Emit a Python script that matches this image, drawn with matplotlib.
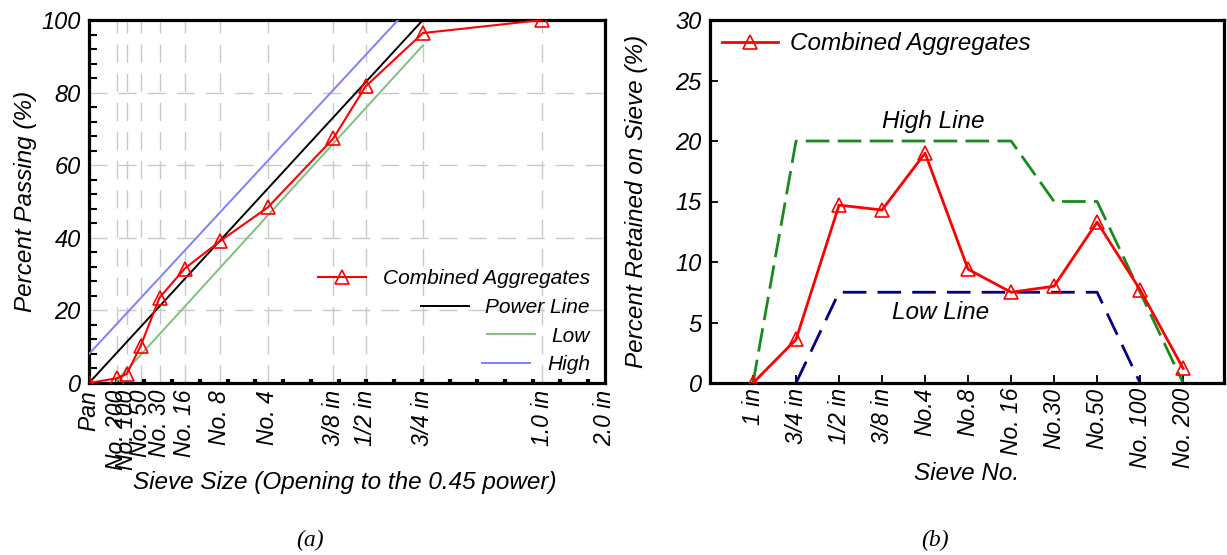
import numpy as np
import matplotlib
matplotlib.use('Agg')
import matplotlib.pyplot as plt
from matplotlib.ticker import FixedLocator, MultipleLocator

plt.rcParams['font.family'] = ['Liberation Sans', 'DejaVu Sans']
plt.rcParams['font.style'] = 'italic'

# ---------------- (a) gradation chart data ----------------
sieve_mm = [0, 0.075, 0.15, 0.3, 0.6, 1.18, 2.36, 4.75, 9.5, 12.5, 19.0, 37.5, 50.0]
sieve_labels_a = ['Pan', 'No. 200', 'No. 100', 'No. 50', 'No. 30', 'No. 16', 'No. 8',
                  'No. 4', '3/8 in', '1/2 in', '3/4 in', '1.0 in', '2.0 in']
combined_mm = [0, 0.075, 0.15, 0.3, 0.6, 1.18, 2.36, 4.75, 9.5, 12.5, 19.0, 37.5]
combined_passing = [0, 1.3, 2.5, 10.2, 23.5, 31.5, 39.0, 48.4, 67.4, 81.7, 96.4, 100]
power_mm = [0, 19.0]
power_pct = [0, 100]
low_mm = [0.075, 19.0]
low_pct = [0.5, 93]
high_mm = [0, 16.0]
high_pct = [8, 100]

# ---------------- (b) retained chart data ----------------
sieve_labels_b = ['1 in', '3/4 in', '1/2 in', '3/8 in', 'No.4', 'No.8', 'No. 16',
                  'No.30', 'No.50', 'No. 100', 'No. 200']
retained = [0, 3.6, 14.7, 14.3, 19.0, 9.4, 7.5, 8.0, 13.3, 7.7, 1.2]
high_line = [0, 20, 20, 20, 20, 20, 20, 15, 15, 7.5, 0]
low_line_sieves = ['3/4 in', '1/2 in', '3/8 in', 'No.4', 'No.8', 'No. 16', 'No.30', 'No.50', 'No. 100']
low_line = [0, 7.5, 7.5, 7.5, 7.5, 7.5, 7.5, 7.5, 0]

FS_TICK = 17
FS_XT = 16.5
FS_LAB = 17.5
FS_LEGA = 15
FS_B = 17.5
POW = 0.45

fig = plt.figure(figsize=(12.27, 5.55), dpi=100)

# ======================= (a) =======================
ax1 = fig.add_axes([89/1227, 1-383/555, (605-89)/1227, (383-20)/555])
fwd = lambda x: np.power(np.maximum(x, 0), POW)
inv = lambda x: np.power(np.maximum(x, 0), 1/POW)
ax1.set_xscale('function', functions=(fwd, inv))

ax1.plot(combined_mm, combined_passing, color='red', lw=1.5, marker='^', ms=10,
         mfc='none', mec='red', mew=1.2, label='Combined Aggregates', zorder=5)
ax1.plot(power_mm, power_pct, color='black', lw=1.4, label='Power Line', zorder=4)
ax1.plot(low_mm, low_pct, color='#7fc07f', lw=1.4, label='Low', zorder=4)
ax1.plot(high_mm, high_pct, color='#8080ff', lw=1.4, label='High', zorder=4)

ax1.set_xlim(0, 50)
ax1.set_ylim(0, 100)
ax1.xaxis.set_major_locator(FixedLocator(sieve_mm))
ax1.set_xticklabels(sieve_labels_a, rotation=90, fontsize=FS_XT)
minor_pos = [(k*0.3125)**(1/POW) for k in range(1, 19)]
ax1.xaxis.set_minor_locator(FixedLocator(minor_pos))
ax1.yaxis.set_major_locator(MultipleLocator(20))
ax1.yaxis.set_minor_locator(MultipleLocator(4))
ax1.tick_params(axis='x', which='major', length=0, pad=5)
ax1.tick_params(axis='x', which='minor', direction='in', length=3, width=3, color='black')
ax1.tick_params(axis='y', which='both', direction='in', length=6, width=1.5, labelsize=FS_TICK)
ax1.tick_params(axis='y', which='major', length=0, pad=6)
ax1.grid(True, which='major', color='#c8c8c8', lw=1.0, dashes=(13, 8))
for sp in ax1.spines.values():
    sp.set_linewidth(2.3)
ax1.set_ylabel('Percent Passing (%)', fontsize=FS_LAB)
ax1.yaxis.set_label_coords((37 - 89) / 516, 0.5)
ax1.set_xlabel('Sieve Size (Opening to the 0.45 power)', fontsize=FS_LAB)
ax1.xaxis.set_label_coords(0.495, (383 - 471) / 363)

leg1 = ax1.legend(loc='lower right', bbox_to_anchor=(0.995, -0.01), frameon=False,
                  fontsize=FS_LEGA, handlelength=2.3, handletextpad=0.8, labelspacing=0.46,
                  borderaxespad=0.2)
for vp in leg1._legend_handle_box.get_children():
    vp.align = 'right'

# ======================= (b) =======================
ax2 = fig.add_axes([710/1227, 1-383/555, (1224-710)/1227, (383-20)/555])
xb = np.arange(1, len(sieve_labels_b) + 1)
pos = dict(zip(sieve_labels_b, xb))
ax2.plot(xb, high_line, color='#1a8a1a', lw=2, dashes=(8.5, 3))
ax2.plot([pos[s] for s in low_line_sieves], low_line, color='#000080', lw=2, dashes=(8.5, 4))
ax2.plot(xb, retained, color='red', lw=2, marker='^', ms=10, mfc='none', mec='red',
         mew=1.2, label='Combined Aggregates', zorder=5)
ax2.set_xlim(0, 11.95)
ax2.set_ylim(0, 30)
ax2.set_xticks(xb)
ax2.set_xticklabels(sieve_labels_b, rotation=90, fontsize=FS_XT)
ax2.yaxis.set_major_locator(MultipleLocator(5))
ax2.tick_params(axis='both', which='major', direction='in', length=6, width=1.3)
ax2.tick_params(axis='y', pad=6, labelsize=FS_TICK)
for sp in ax2.spines.values():
    sp.set_linewidth(2.3)
ax2.set_ylabel('Percent Retained on Sieve (%)', fontsize=FS_LAB)
ax2.yaxis.set_label_coords((648 - 710) / 514, 0.5)
ax2.set_xlabel('Sieve No.', fontsize=FS_LAB)
ax2.xaxis.set_label_coords(0.5, (383 - 462) / 363)
ax2.text(5.2, 21.6, 'High Line', fontsize=FS_B, ha='center', va='center')
ax2.text(5.35, 5.8, 'Low Line', fontsize=FS_B, ha='center', va='center')
ax2.legend(loc='upper left', frameon=False, fontsize=FS_B, handlelength=2.3,
           handletextpad=0.5, borderaxespad=0.1)

fig.text(310/1227, 1-540/555, '(a)', family='Liberation Serif', style='italic',
         fontsize=17, ha='center', va='center')
fig.text(935/1227, 1-540/555, '(b)', family='Liberation Serif', style='italic',
         fontsize=17, ha='center', va='center')

fig.savefig('out.png', dpi=100)
